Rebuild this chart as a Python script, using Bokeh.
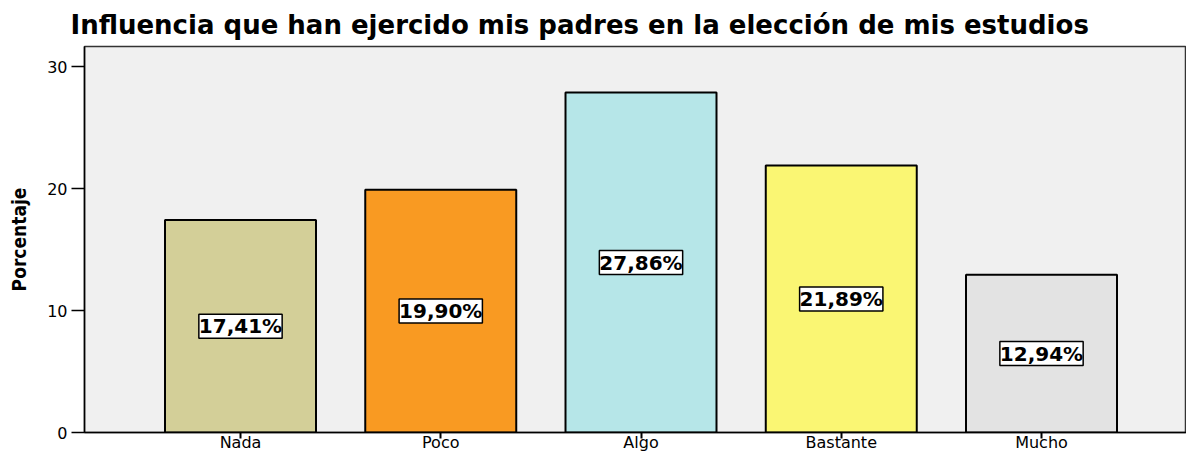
from bokeh.plotting import figure
from bokeh.models import ColumnDataSource, Range1d, FixedTicker, LabelSet
from bokeh.core.properties import value
from bokeh.embed import file_html
from bokeh.resources import INLINE

categories = ["Nada", "Poco", "Algo", "Bastante", "Mucho"]
percentages = [17.41, 19.90, 27.86, 21.89, 12.94]
colors = ["#d3cf98", "#f99a22", "#b6e6e8", "#faf673", "#e3e3e3"]
y_ticks = [0, 10, 20, 30]

xs = list(range(len(categories)))
src = ColumnDataSource(dict(
    x=xs,
    top=percentages,
    mid=[v / 2 for v in percentages],
    color=colors,
    label=[f"{v:.2f}%".replace(".", ",") for v in percentages],
))

p = figure(width=1186, height=454, output_backend="svg", toolbar_location=None,
           x_range=Range1d(-0.779, 4.724), y_range=Range1d(0, 31.64),
           min_border_left=84, min_border_right=0, min_border_top=45, min_border_bottom=22)

p.title.text = "Influencia que han ejercido mis padres en la elección de mis estudios"
p.title.text_font = "DejaVu Sans"
p.title.text_font_size = "26px"
p.title.text_font_style = "bold"
p.title.text_color = "black"
p.title.align = "left"
p.title.offset = -14
p.title.standoff = 14

p.background_fill_color = "#f0f0f0"
p.border_fill_color = "white"
p.outline_line_color = "#333333"
p.outline_line_width = 1.5
p.grid.visible = False

p.vbar(x="x", top="top", width=0.754, bottom=0, fill_color="color",
       line_color="black", line_width=2, source=src)

labels = LabelSet(x="x", y="mid", text="label", source=src,
                  text_align="center", text_baseline="middle",
                  text_font=value("DejaVu Sans"), text_font_size="20px", text_font_style="bold",
                  text_color="black",
                  background_fill_color="white", border_line_color="black", border_line_width=1.5)
p.add_layout(labels)

p.yaxis.ticker = FixedTicker(ticks=y_ticks)
p.yaxis.minor_tick_line_color = None
p.yaxis.major_tick_in = 0
p.yaxis.major_tick_out = 13
p.yaxis.major_tick_line_width = 1.5
p.yaxis.axis_line_width = 1.5
p.yaxis.major_label_standoff = 4
p.yaxis.major_label_text_font = "DejaVu Sans"
p.yaxis.major_label_text_font_size = "16px"
p.yaxis.major_label_text_color = "black"
p.yaxis.axis_label = "Porcentaje"
p.yaxis.axis_label_text_font = "DejaVu Sans Condensed"
p.yaxis.axis_label_text_font_size = "19px"
p.yaxis.axis_label_text_font_style = "bold"
p.yaxis.axis_label_text_color = "black"
p.yaxis.axis_label_standoff = 14

p.xaxis.ticker = FixedTicker(ticks=xs)
p.xaxis.major_label_overrides = {i: c for i, c in zip(xs, categories)}
p.xaxis.minor_tick_line_color = None
p.xaxis.major_tick_in = 0
p.xaxis.major_tick_out = 6
p.xaxis.major_tick_line_width = 2
p.xaxis.axis_line_width = 1.5
p.xaxis.major_label_standoff = -6
p.xaxis.major_label_text_font = "DejaVu Sans"
p.xaxis.major_label_text_font_size = "16px"
p.xaxis.major_label_text_color = "black"

open("out.html", "w").write(file_html(p, INLINE))
